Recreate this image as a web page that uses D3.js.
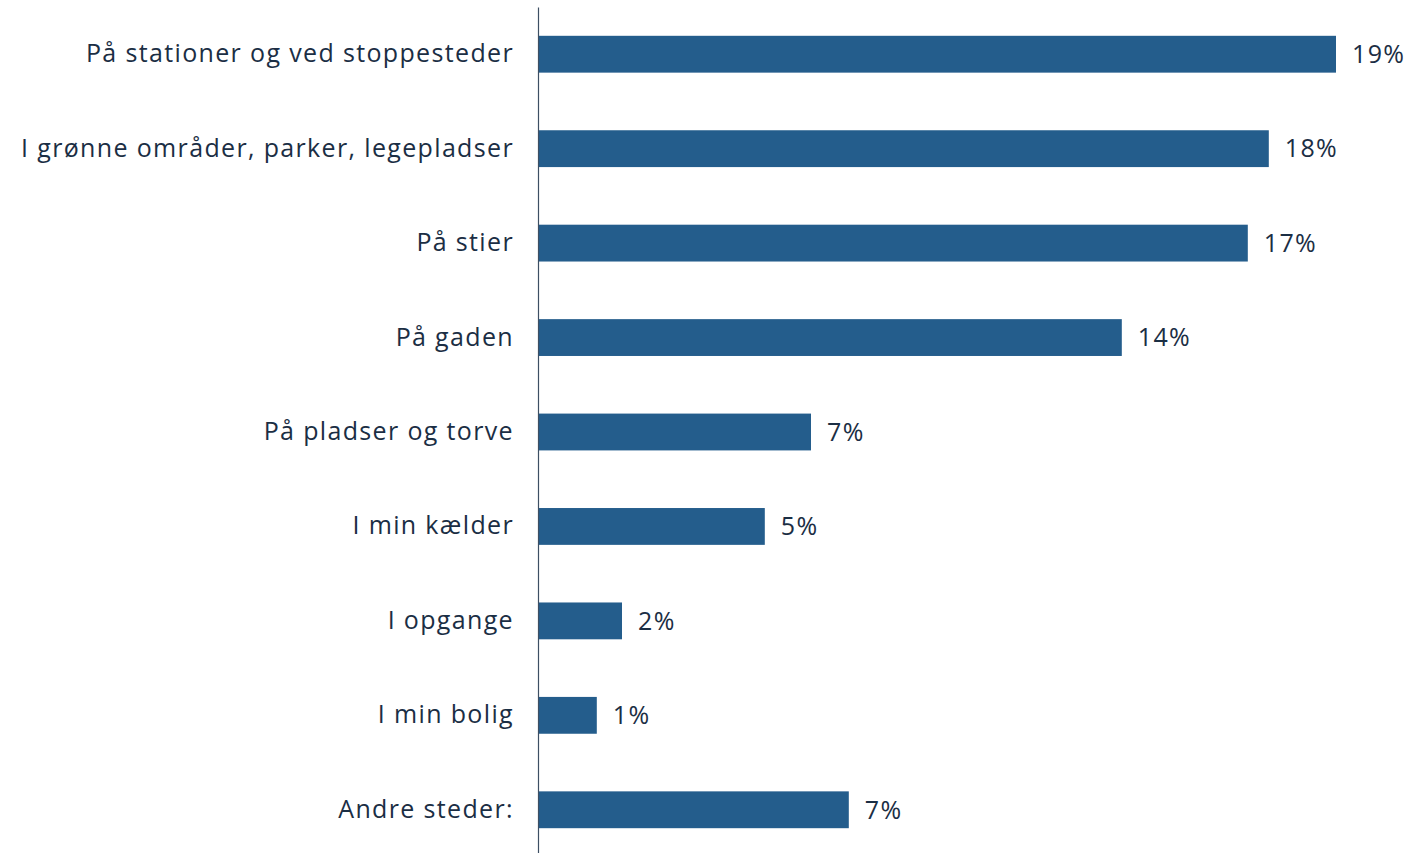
<!DOCTYPE html>
<html>
<head>
<meta charset="UTF-8">
<title></title>
<script src="https://cdn.jsdelivr.net/npm/d3@7"></script>
<style>
  body { margin: 0; background: #fff; }
  text { font-family: "Open Sans", "Noto Sans", sans-serif; }
</style>
</head>
<body>
<div id="svg"></div>
<script>
const categories = ["På stationer og ved stoppesteder", "I grønne områder, parker, legepladser", "På stier", "På gaden", "På pladser og torve", "I min kælder", "I opgange", "I min bolig", "Andre steder:"]
const values = [19.0, 17.4, 16.9, 13.9, 6.5, 5.4, 2.0, 1.4, 7.4]
const valueLabels = ["19%", "18%", "17%", "14%", "7%", "5%", "2%", "1%", "7%"]

const width = 1424
const height = 853
const padding = {top: 7, left: 538, right: 0, bottom: -4}

const svg = d3.select("#svg").append("svg").attr("width", width).attr("height", height)

// x: 42px per percentage point
const xScale = d3.scaleLinear().domain([0, 20]).range([padding.left, padding.left + 840])
const yScale = d3.scaleBand().domain(categories).range([padding.top, height - padding.bottom]).paddingInner(0.61).paddingOuter(0.305)

// bars
svg.selectAll("rect").data(values).enter().append("rect")
  .attr("x", xScale(0))
  .attr("y", (d, i) => yScale(categories[i]))
  .attr("width", d => xScale(d) - xScale(0))
  .attr("height", yScale.bandwidth())
  .attr("fill", "#245d8c")

// value labels
svg.selectAll(".val").data(values).enter().append("text")
  .attr("class", "val")
  .attr("x", d => xScale(d) + 16)
  .attr("y", (d, i) => yScale(categories[i]) + yScale.bandwidth() / 2)
  .attr("dy", "0.35em")
  .attr("font-size", 25)
  .attr("letter-spacing", 1.35)
  .attr("fill", "#1b2e44")
  .text((d, i) => valueLabels[i])

// y axis
const yAxis = d3.axisLeft(yScale).tickSize(0).tickPadding(24)
const gy = svg.append("g").attr("transform", `translate(${padding.left},0)`).call(yAxis)
gy.select(".domain").attr("stroke", "#3d4f63").attr("stroke-width", 1.2)
gy.selectAll("text").attr("font-size", 25).attr("letter-spacing", 1.35).attr("fill", "#1b2e44").attr("font-family", "'Open Sans', 'Noto Sans', sans-serif")
</script>
</body>
</html>
